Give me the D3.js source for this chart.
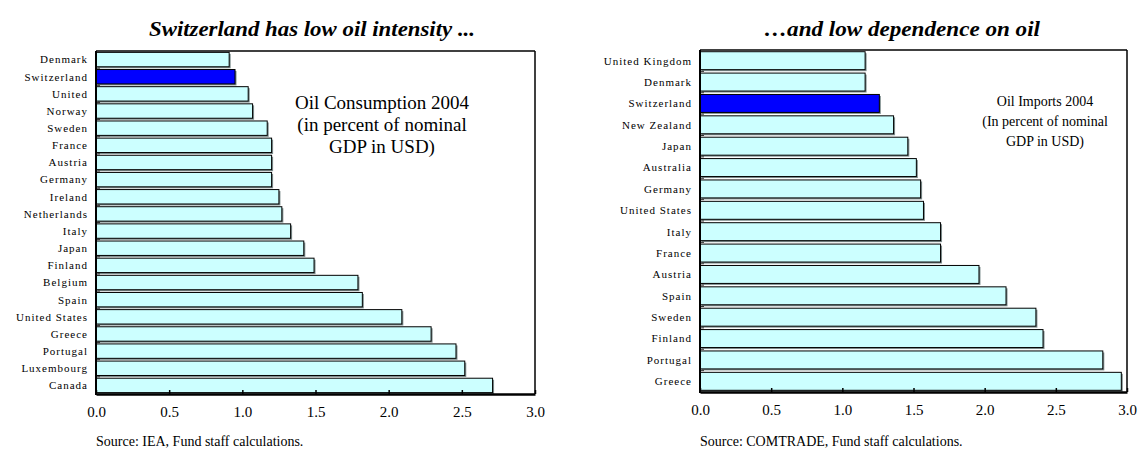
<!DOCTYPE html>
<html>
<head>
<meta charset="utf-8">
<script src="https://cdn.jsdelivr.net/npm/d3@7"></script>
<style>
  html, body { margin: 0; padding: 0; background: #fff; }
  svg { display: block; }
  text { font-family: "Liberation Serif", "Times New Roman", serif; fill: #000; }
</style>
</head>
<body>
<svg id="chart" width="1142" height="456"></svg>
<script>
// Oil consumption 2004, percent of nominal GDP in USD
const consumptionCountries = ["Denmark", "Switzerland", "United", "Norway", "Sweden", "France", "Austria",
  "Germany", "Ireland", "Netherlands", "Italy", "Japan", "Finland", "Belgium", "Spain", "United States",
  "Greece", "Portugal", "Luxembourg", "Canada"];
const consumptionValues = [0.91, 0.95, 1.04, 1.07, 1.17, 1.20, 1.20, 1.20, 1.25, 1.27, 1.33, 1.42, 1.49,
  1.79, 1.82, 2.09, 2.29, 2.46, 2.52, 2.71];

// Oil imports 2004, percent of nominal GDP in USD
const importCountries = ["United Kingdom", "Denmark", "Switzerland", "New Zealand", "Japan", "Australia",
  "Germany", "United States", "Italy", "France", "Austria", "Spain", "Sweden", "Finland", "Portugal", "Greece"];
const importValues = [1.16, 1.16, 1.26, 1.36, 1.46, 1.52, 1.55, 1.57, 1.69, 1.69, 1.96, 2.15, 2.36, 2.41,
  2.83, 2.96];

const xTicks = [0, 0.5, 1, 1.5, 2, 2.5, 3];
const highlight = "Switzerland";

const panels = [
  {
    title: "Switzerland has low oil intensity ...",
    titleX: 312, titleWidth: 326,
    countries: consumptionCountries, values: consumptionValues,
    left: 96, right: 535, top: 51, bottom: 394,
    note: ["Oil Consumption 2004", "(in percent of nominal", "GDP in USD)"],
    noteX: 382, noteY: 109, noteSize: 19, noteGap: 22,
    source: "Source: IEA, Fund staff calculations."
  },
  {
    title: "\u2026and low dependence on oil",
    titleX: 902, titleWidth: 276,
    countries: importCountries, values: importValues,
    left: 700, right: 1127, top: 50, bottom: 392,
    note: ["Oil Imports 2004", "(In percent of nominal", "GDP in USD)"],
    noteX: 1045, noteY: 106, noteSize: 14, noteGap: 20,
    source: "Source: COMTRADE, Fund staff calculations."
  }
];

const svg = d3.select("#chart");

panels.forEach(p => {
  const g = svg.append("g");

  const x = d3.scaleLinear().domain([0, 3]).range([p.left, p.right]);
  const y = d3.scaleBand().domain(p.countries).range([p.top, p.bottom])
    .paddingInner(0.16).paddingOuter(0.08);

  // title
  g.append("text")
    .attr("x", p.titleX).attr("y", 36)
    .attr("text-anchor", "middle")
    .attr("textLength", p.titleWidth).attr("lengthAdjust", "spacingAndGlyphs")
    .style("font-size", "20px").style("font-weight", "bold").style("font-style", "italic")
    .text(p.title);

  // bar shadows
  g.selectAll("rect.shadow").data(p.values).join("rect")
    .attr("class", "shadow")
    .attr("x", x(0) + 1.5)
    .attr("y", (d, i) => y(p.countries[i]) + 1.5)
    .attr("width", d => x(d) - x(0))
    .attr("height", y.bandwidth())
    .attr("fill", "#7f8f8f");

  // bars
  g.selectAll("rect.bar").data(p.values).join("rect")
    .attr("class", "bar")
    .attr("x", x(0))
    .attr("y", (d, i) => y(p.countries[i]))
    .attr("width", d => x(d) - x(0))
    .attr("height", y.bandwidth())
    .attr("fill", (d, i) => p.countries[i] === highlight ? "#0000ff" : "#ccffff")
    .attr("stroke", "#000").attr("stroke-width", 1);

  // small inward ticks between categories
  const step = y.step();
  g.selectAll("line.ytick").data(d3.range(1, p.countries.length)).join("line")
    .attr("class", "ytick")
    .attr("x1", p.left).attr("x2", p.left + 4)
    .attr("y1", i => p.top + i * step).attr("y2", i => p.top + i * step)
    .attr("stroke", "#333").attr("stroke-width", 1);

  // category labels
  g.selectAll("text.cat").data(p.countries).join("text")
    .attr("class", "cat")
    .attr("x", p.left - 8)
    .attr("y", d => y(d) + y.bandwidth() / 2)
    .attr("dy", "0.35em")
    .attr("text-anchor", "end")
    .style("font-size", "11px").style("letter-spacing", "1px")
    .text(d => d);

  // frame: thin top and right, heavier left and bottom
  g.append("line").attr("x1", p.left).attr("x2", p.right).attr("y1", p.top).attr("y2", p.top)
    .attr("stroke", "#000").attr("stroke-width", 1.5);
  g.append("line").attr("x1", p.right).attr("x2", p.right).attr("y1", p.top).attr("y2", p.bottom)
    .attr("stroke", "#000").attr("stroke-width", 1.5);
  g.append("line").attr("x1", p.left).attr("x2", p.left).attr("y1", p.top).attr("y2", p.bottom + 1)
    .attr("stroke", "#000").attr("stroke-width", 2);

  // x axis
  const axis = g.append("g")
    .attr("transform", `translate(0,${p.bottom})`)
    .call(d3.axisBottom(x).tickValues(xTicks).tickFormat(d3.format(".1f"))
      .tickSizeInner(-4).tickSizeOuter(0).tickPadding(12));
  axis.select(".domain").attr("stroke", "#000").attr("stroke-width", 2.5);
  axis.selectAll(".tick line").attr("stroke", "#000").attr("stroke-width", 1.5);
  axis.selectAll(".tick text")
    .style("font-family", "'Liberation Serif', 'Times New Roman', serif")
    .style("font-size", "15px").attr("fill", "#000");

  // note inside the plot
  g.append("text")
    .attr("x", p.noteX).attr("y", p.noteY)
    .attr("text-anchor", "middle")
    .style("font-size", p.noteSize + "px")
    .selectAll("tspan").data(p.note).join("tspan")
    .attr("x", p.noteX).attr("dy", (d, i) => i === 0 ? 0 : p.noteGap)
    .text(d => d);

  // source line
  g.append("text")
    .attr("x", p.left).attr("y", 446)
    .style("font-size", "14px")
    .text(p.source);
});
</script>
</body>
</html>
